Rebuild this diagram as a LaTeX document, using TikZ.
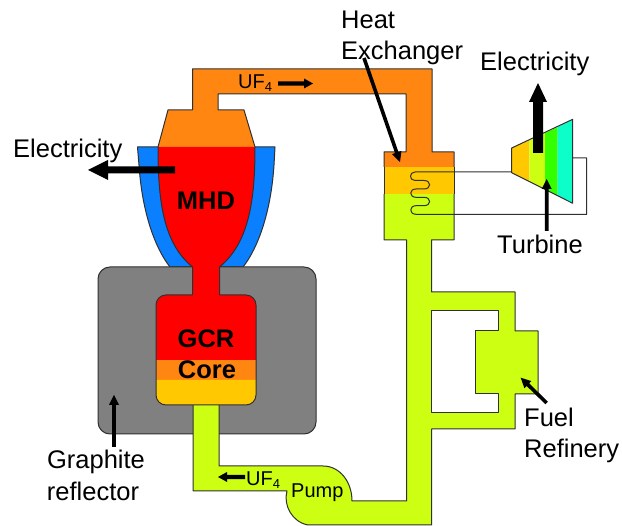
\documentclass[tikz,border=0pt]{standalone}
\usepackage{fontspec}
\setmainfont{Liberation Sans}
\definecolor{cgreen}{HTML}{CCFF11}
\definecolor{corange}{HTML}{FF8611}
\definecolor{cyellow}{HTML}{FFC800}
\definecolor{cblue}{HTML}{0A80FF}
\definecolor{cred}{HTML}{FF0000}
\definecolor{cgray}{HTML}{808080}
\definecolor{cline}{HTML}{303030}
\definecolor{cturbg}{HTML}{33FF00}
\definecolor{cturbc}{HTML}{0CFFC8}
\tikzset{
  edge/.style={draw=cline,line width=1pt,line join=round},
  lbl/.style={inner sep=0pt,font=\fontsize{25.5}{30}\selectfont,text=black},
  lblb/.style={lbl,font=\fontsize{25.5}{30}\selectfont\bfseries},
  small/.style={inner sep=0pt,font=\fontsize{20}{24}\selectfont,text=black}
}
\usetikzlibrary{calc}
\newcommand{\bigarrow}[5]{% from, to, half shaft, half head, head length
  \path let \p1=(#1),\p2=(#2),\n1={atan2(\y2-\y1,\x2-\x1)},\n2={veclen(\x2-\x1,\y2-\y1)} in
   [fill=black,shift={(\p1)},x=1pt,y=1pt,rotate=\n1]
   (0,#3) -- (\n2-#5,#3) -- (\n2-#5,#4) -- (\n2,0) -- (\n2-#5,-#4) -- (\n2-#5,-#3) -- (0,-#3) -- cycle;
}
\begin{document}
\begin{tikzpicture}[x=1pt,y=-1pt]
\useasboundingbox (0,0) rectangle (622,526);
% blue jacket
\path[fill=cblue,edge] (137.5,147) -- (139,165) .. controls (142,212) and (155,248) .. (170,267) -- (243,267) .. controls (258,248) and (271,212) .. (274,165) -- (275,147) -- cycle;
% graphite
\path[fill=cgray,edge,rounded corners=12pt] (98,267) rectangle (316,434);
% green fill
\path[fill=cgreen] (193,405) -- (193,491) -- (287,491) .. controls (283,505) and (292,522) .. (308,525) -- (431.5,525) -- (431.5,429) -- (515,429) -- (515,394) -- (538,394) -- (538,331) -- (515,331) -- (515,292) -- (431.5,292) -- (431.5,240) -- (454,240) -- (454,194) -- (384,194) -- (384,240) -- (406.5,240) -- (406.5,501) -- (352,501) .. controls (352,482) and (340,466) .. (323,466) -- (219,466) -- (219,405) -- cycle;
\draw[edge] (193,405) -- (193,491) -- (287,491) .. controls (283,505) and (292,522) .. (308,525) -- (431.5,525) -- (431.5,429) -- (515,429) -- (515,394) -- (538,394) -- (538,331) -- (515,331) -- (515,292) -- (431.5,292) -- (431.5,240) -- (454,240) -- (454,194) (384,194) -- (384,240) -- (406.5,240) -- (406.5,501) -- (352,501) .. controls (352,482) and (340,466) .. (323,466) -- (219,466) -- (219,405);
\path[fill=white,edge] (431.5,311) -- (498,311) -- (498,331) -- (475,331) -- (475,394) -- (498,394) -- (498,413) -- (431.5,413) -- cycle;
% heat exchanger yellow band
\path[fill=cyellow] (384,167) rectangle (454,194);
\draw[edge] (384,167) -- (384,194) (454,167) -- (454,194);
% orange path
\path[fill=corange] (158,147) -- (168,110) -- (192.5,110) -- (192.5,69) -- (432,69) -- (432,152) -- (454,152) -- (454,167) -- (384,167) -- (384,152) -- (406,152) -- (406,94) -- (218,94) -- (218,110) -- (244,110) -- (255,147) -- cycle;
\draw[edge] (158,147) -- (168,110) -- (192.5,110) -- (192.5,69) -- (432,69) -- (432,152) -- (454,152) -- (454,167) (384,167) -- (384,152) -- (406,152) -- (406,94) -- (218,94) -- (218,110) -- (244,110) -- (255,147);
% MHD + neck + core upper (red)
\path[fill=cred] (158,147) -- (255,147) .. controls (255,200) and (249,243) .. (219.5,267) -- (219.5,295) -- (246,295) .. controls (251.5,295) and (256,299.5) .. (256,305) -- (256,360) -- (156,360) -- (156,305) .. controls (156,299.5) and (160.5,295) .. (166,295) -- (192.5,295) -- (192.5,267) .. controls (163,243) and (158,200) .. (158,147) -- cycle;
\draw[edge] (255,147) .. controls (255,200) and (249,243) .. (219.5,267) -- (219.5,295) -- (246,295) .. controls (251.5,295) and (256,299.5) .. (256,305) -- (256,360);
\draw[edge] (158,147) .. controls (158,200) and (163,243) .. (192.5,267) -- (192.5,295) -- (166,295) .. controls (160.5,295) and (156,299.5) .. (156,305) -- (156,360);
% core lower bands
\path[fill=corange] (156,360) rectangle (256,380);
\path[fill=cyellow] (156,380) -- (256,380) -- (256,395) .. controls (256,400.5) and (251.5,405) .. (246,405) -- (166,405) .. controls (160.5,405) and (156,400.5) .. (156,395) -- cycle;
\draw[edge] (156,360) -- (156,395) .. controls (156,400.5) and (160.5,405) .. (166,405) -- (246,405) .. controls (251.5,405) and (256,400.5) .. (256,395) -- (256,360);
% turbine
\path[fill=cyellow] (511.7,148) -- (529.3,140.4) -- (529.3,181.5) -- (511.7,172.7) -- cycle;
\path[fill=cgreen] (529.3,140.4) -- (545,133) -- (545,189.3) -- (529.3,181.5) -- cycle;
\path[fill=cturbg] (545,133) -- (557.7,127) -- (557.7,195.8) -- (545,189.3) -- cycle;
\path[fill=cturbc] (557.7,127) -- (572.7,119.3) -- (572.7,203.3) -- (557.7,195.8) -- cycle;
\draw[edge] (511.7,148) -- (572.7,119.3) -- (572.7,203.3) -- (511.7,172.7) -- cycle;
% coil and working-fluid loop
\draw[edge] (511.7,172) -- (415,172) .. controls (409,172) and (409,180.5) .. (415,180.5) .. controls (419,180.5) and (421,180.5) .. (424,180.5) .. controls (431.5,180.5) and (431.5,189) .. (424,189) .. controls (421,189) and (419,189) .. (416,189) .. controls (409,189) and (409,197.3) .. (416,197.3) .. controls (419,197.3) and (421,197.3) .. (424,197.3) .. controls (431.5,197.3) and (431.5,205.7) .. (424,205.7) .. controls (421,205.7) and (419,205.7) .. (416,205.7) .. controls (409,205.7) and (409,214.3) .. (416,214.3) -- (586.7,214.3) -- (586.7,158) -- (572.7,158);
% text
\node[lblb] (mhd) at (206,201) {MHD};
\node[lblb] (gcr) at (206,339) {GCR};
\node[lblb] (core) at (207,370) {Core};
\node[lbl,anchor=base west] (elecl) at (13,158) {Electricity};
\node[lbl,anchor=base west] (elecr) at (480,71) {Electricity};
\node[lbl,anchor=base west] (heat) at (341,29) {Heat};
\node[lbl,anchor=base west] (exch) at (341,60) {Exchanger};
\node[lbl,anchor=base west] (turb) at (497,254) {Turbine};
\node[lbl,anchor=base west] (fuel) at (524,427) {Fuel};
\node[lbl,anchor=base west] (ref) at (524,458) {Refinery};
\node[lbl,anchor=base] (graph) at (96,469) {Graphite};
\node[lbl,anchor=base] (reflc) at (93,501) {reflector};
\node[small,anchor=base west] (uft) at (238,89) {UF\raisebox{-3pt}{\fontsize{13}{15}\selectfont 4}};
\node[small,anchor=base west] (ufb) at (246,486) {UF\raisebox{-3pt}{\fontsize{13}{15}\selectfont 4}};
\node[small,anchor=base west] (pump) at (291,498) {Pump};
% arrows
\coordinate (a1s) at (175,170); \coordinate (a1e) at (88,170);
\bigarrow{a1s}{a1e}{3.5}{10}{20}
\coordinate (a2s) at (538,153); \coordinate (a2e) at (538,83);
\bigarrow{a2s}{a2e}{5}{9}{19}
\coordinate (a3s) at (364,58); \coordinate (a3e) at (400,162);
\bigarrow{a3s}{a3e}{1.8}{5}{10}
\coordinate (a4s) at (546.7,231); \coordinate (a4e) at (546.7,179);
\bigarrow{a4s}{a4e}{1.8}{5}{10}
\coordinate (a5s) at (278,83.5); \coordinate (a5e) at (313,83.5);
\bigarrow{a5s}{a5e}{2.2}{5}{9}
\coordinate (a6s) at (245,477); \coordinate (a6e) at (218,477);
\bigarrow{a6s}{a6e}{2.2}{5}{9}
\coordinate (a7s) at (114,447); \coordinate (a7e) at (114,395);
\bigarrow{a7s}{a7e}{1.8}{5}{10}
\coordinate (a8s) at (546.7,403); \coordinate (a8e) at (520.7,377.7);
\bigarrow{a8s}{a8e}{1.8}{5}{10}
\end{tikzpicture}
\end{document}
